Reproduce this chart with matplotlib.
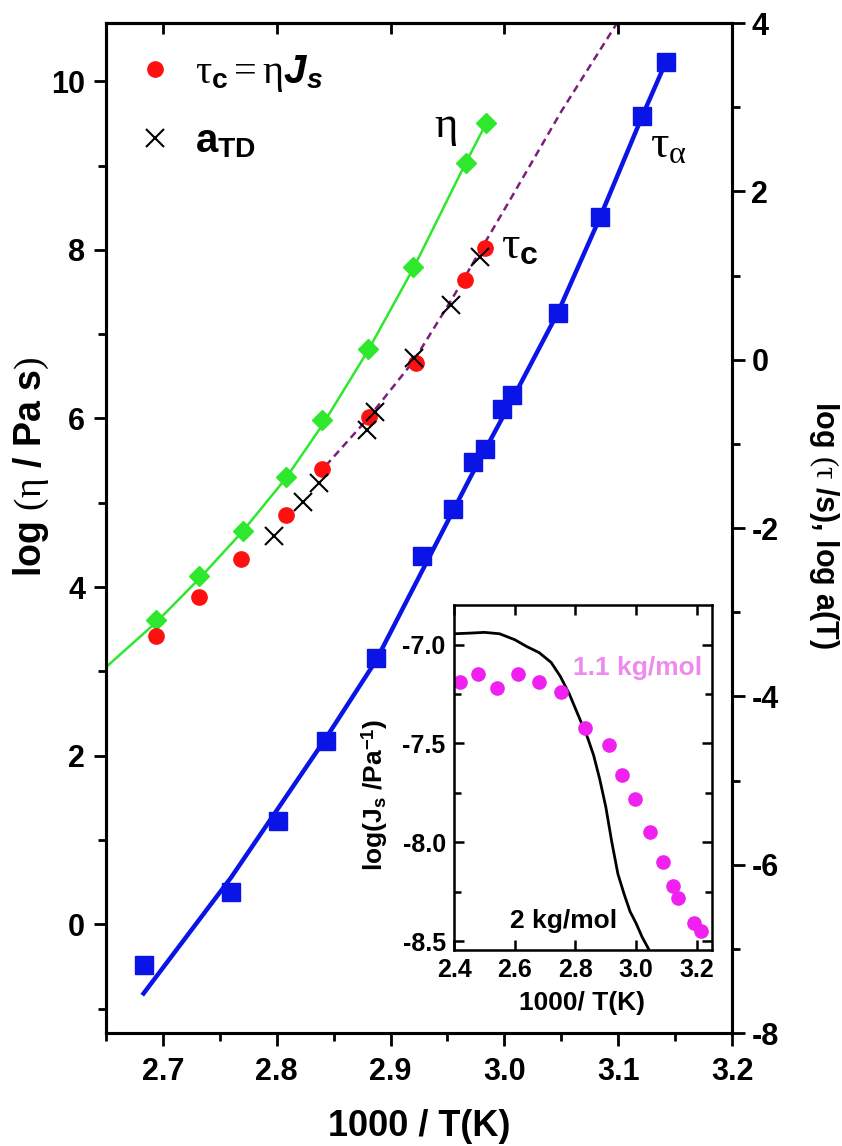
import numpy as np
import matplotlib
matplotlib.use("Agg")
import matplotlib.pyplot as plt

plt.rcParams['font.family'] = ['Liberation Sans', 'DejaVu Sans']
plt.rcParams['font.weight'] = 'bold'
plt.rcParams['axes.unicode_minus'] = False
plt.rcParams['mathtext.fontset'] = 'custom'
plt.rcParams['mathtext.rm'] = 'Liberation Serif:weight=normal'
plt.rcParams['mathtext.it'] = 'Liberation Serif:italic:weight=normal'
plt.rcParams['mathtext.bf'] = 'Liberation Sans:bold'
plt.rcParams['mathtext.bfit'] = 'Liberation Sans:italic:bold'
plt.rcParams['mathtext.sf'] = 'Liberation Sans:weight=normal'

# viscosite (axe gauche)
eta_x = [2.694, 2.732, 2.770, 2.808, 2.840, 2.880, 2.920, 2.966, 2.984]
eta_y = [3.61, 4.13, 4.66, 5.31, 5.98, 6.82, 7.80, 9.03, 9.50]
eta_fit_x = [2.650, 2.694, 2.732, 2.770, 2.808, 2.840, 2.880, 2.920, 2.966, 2.984]
eta_fit_y = [3.05, 3.58, 4.10, 4.66, 5.29, 5.92, 6.80, 7.78, 9.03, 9.50]

# tau_c = eta*Js (axe droit)
tauc_x = [2.694, 2.732, 2.769, 2.808, 2.840, 2.881, 2.922, 2.965, 2.983]
tauc_y = [-3.28, -2.82, -2.37, -1.85, -1.30, -0.68, -0.04, 0.95, 1.33]
tauc_fit_x = [2.843, 2.880, 2.920, 2.953, 3.005, 3.050, 3.099]
tauc_fit_y = [-1.26, -0.70, -0.02, 0.70, 1.90, 2.95, 4.00]

# a_TD
atd_x = [2.798, 2.823, 2.837, 2.879, 2.886, 2.921, 2.953, 2.979]
atd_y = [-2.09, -1.69, -1.46, -0.83, -0.62, 0.02, 0.65, 1.22]

# tau_alpha
taua_x = [2.683, 2.760, 2.801, 2.843, 2.887, 2.928, 2.955, 2.972, 2.983,
          2.998, 3.007, 3.047, 3.084, 3.121, 3.142]
taua_y = [-7.19, -6.33, -5.48, -4.53, -3.54, -2.33, -1.77, -1.22, -1.06,
          -0.59, -0.42, 0.56, 1.69, 2.89, 3.54]
taua_fit_x = [2.683, 2.760, 2.843, 2.887, 2.930, 2.970, 3.007, 3.047, 3.084, 3.121, 3.142]
taua_fit_y = [-7.53, -6.15, -4.50, -3.58, -2.45, -1.40, -0.47, 0.56, 1.69, 2.89, 3.54]

# encart : Js
js2_x = [2.40, 2.45, 2.50, 2.55, 2.60, 2.64, 2.68, 2.72, 2.75, 2.78, 2.81,
         2.84, 2.86, 2.88, 2.90, 2.92, 2.94, 2.96, 2.98, 3.00, 3.02, 3.043]
js2_y = [-6.945, -6.942, -6.938, -6.945, -6.975, -7.01, -7.04, -7.09, -7.16, -7.25, -7.36,
         -7.47, -7.56, -7.68, -7.82, -8.00, -8.16, -8.26, -8.35, -8.41, -8.48, -8.545]
js11_x = [2.420, 2.480, 2.542, 2.611, 2.679, 2.751, 2.830, 2.911, 2.955, 2.997,
          3.045, 3.089, 3.120, 3.139, 3.190, 3.214]
js11_y = [-7.19, -7.15, -7.22, -7.15, -7.19, -7.24, -7.42, -7.51, -7.66, -7.78,
          -7.95, -8.10, -8.22, -8.28, -8.41, -8.45]

fig = plt.figure(figsize=(8.42, 11.46), dpi=100)
ax = fig.add_axes([0.1259, 0.0986, 0.7435, 0.8813])
ax2 = ax.twinx()

ax.plot(eta_fit_x, eta_fit_y, color='#2ee82e', lw=1.8, zorder=2)
ax.plot(eta_x, eta_y, 'D', color='#2ee82e', ms=10, zorder=3)

ax2.plot(tauc_fit_x, tauc_fit_y, '--', color='#7b1f7b', lw=1.8, dashes=(3, 2))
ax2.plot(taua_fit_x, taua_fit_y, color='#0a14e6', lw=3.2)
ax2.plot(taua_x, taua_y, 's', color='#0a14e6', ms=13)
h1, = ax2.plot(tauc_x, tauc_y, 'o', color='#ff1010', ms=11, label=r'$\mathrm{\tau}_\mathbf{c}\mathrm{=\eta}\mathbfit{J}_\mathbfit{s}$')
h2, = ax2.plot(atd_x, atd_y, 'x', color='black', ms=13, mew=1.5, label=r'$\mathbf{a}_\mathbf{TD}$')

ax.set_xlim(2.65, 3.2)
ax.set_ylim(-1.29, 10.69)
ax2.set_ylim(-8, 4)

ax.set_xticks(np.arange(2.7, 3.21, 0.1))
ax.set_xticks([2.65, 2.75, 2.85, 2.95, 3.05, 3.15], minor=True)
ax.set_yticks(np.arange(0, 11, 2))
ax.set_yticks(np.arange(-1, 11, 2), minor=True)
ax2.set_yticks(np.arange(-8, 5, 2))
ax2.set_yticks(np.arange(-7, 4, 2), minor=True)
ax.xaxis.set_major_formatter(matplotlib.ticker.FormatStrFormatter('%.1f'))

for a in (ax, ax2):
    for s in a.spines.values():
        s.set_linewidth(2.2)
ax.tick_params(axis='both', which='major', direction='out', length=9, width=2, labelsize=22)
ax.tick_params(axis='both', which='minor', direction='out', length=6, width=2)
ax.tick_params(axis='x', pad=8)
ax.tick_params(axis='y', pad=6)
ax2.tick_params(axis='y', which='major', direction='out', length=9, width=2, labelsize=22, pad=5)
ax2.tick_params(axis='y', which='minor', direction='out', length=6, width=2)

top = ax.secondary_xaxis('top')
top.set_xticks(np.arange(2.7, 3.21, 0.1))
top.tick_params(direction='in', length=8, width=2, labeltop=False)
top.spines['top'].set_linewidth(2.2)

ax.set_xlabel('1000 / T(K)', fontsize=26, fontweight='bold')
ax.xaxis.set_label_coords(0.5, -0.075)
ax.set_ylabel(r'log $(\mathrm{\eta}$ / Pa s$)$', fontsize=27, fontweight='bold')
ax.yaxis.set_label_coords(-0.088, 0.56)
ax2.set_ylabel(r'log $(\mathrm{\tau}$ /s), log a(T)', fontsize=22, fontweight='bold',
               rotation=270, va='bottom')
ax2.yaxis.set_label_coords(1.12, 0.503)

ax.text(2.938, 9.34, r'$\mathrm{\eta}$', fontsize=32, ha='left', va='baseline')
ax.text(2.997, 7.90, r'$\mathrm{\tau}_\mathbf{c}$', fontsize=33, ha='left', va='baseline')
ax.text(3.128, 9.09, r'$\mathrm{\tau}_\mathrm{\alpha}$', fontsize=33, ha='left', va='baseline')

ax2.legend(handles=[h1, h2], loc='upper left', bbox_to_anchor=(-0.012, 1.006), frameon=False,
           fontsize=29, handlelength=1.0, handletextpad=0.5, labelspacing=0.7)

# encart
axi = fig.add_axes([0.5392, 0.1710, 0.3064, 0.3010])
axi.plot(js2_x, js2_y, color='black', lw=2)
axi.plot(js11_x, js11_y, 'o', color='#f020f0', ms=9.5, ls='none')
axi.set_xlim(2.4, 3.25)
axi.set_ylim(-8.545, -6.80)
axi.set_xticks(np.arange(2.4, 3.21, 0.2))
axi.set_yticks([-8.5, -8.0, -7.5, -7.0])
axi.set_yticks([-8.25, -7.75, -7.25], minor=True)
axi.xaxis.set_major_formatter(matplotlib.ticker.FormatStrFormatter('%.1f'))
axi.yaxis.set_major_formatter(matplotlib.ticker.FormatStrFormatter('%.1f'))
for s in axi.spines.values():
    s.set_linewidth(1.8)
axi.tick_params(axis='both', which='both', direction='in', top=True, right=True, width=1.8, labelsize=18)
axi.tick_params(which='major', length=7)
axi.tick_params(which='minor', length=5)
axi.tick_params(axis='x', pad=6)
axi.tick_params(axis='y', pad=6)
axi.set_xlabel('1000/ T(K)', fontsize=19, fontweight='bold')
axi.xaxis.set_label_coords(0.498, -0.12)
axi.set_ylabel(r'log(J$_\mathbf{s}$ /Pa$^\mathbf{-1}$)', fontsize=19, fontweight='bold')
axi.yaxis.set_label_coords(-0.25, 0.45)
axi.text(3.004, -7.12, '1.1 kg/mol', color='#ee8aee', fontsize=19, fontweight='bold', ha='center', va='center')
axi.text(2.76, -8.40, '2 kg/mol', color='black', fontsize=19, fontweight='bold', ha='center', va='center')

fig.savefig('out.png', dpi=100)
